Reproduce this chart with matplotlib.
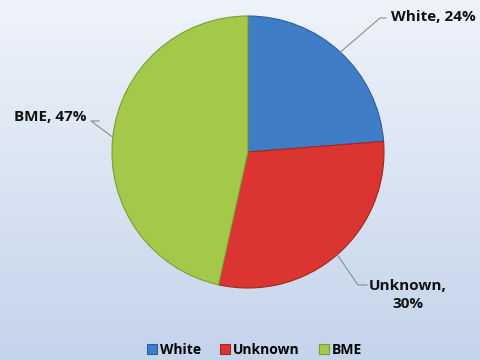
import numpy as np
import matplotlib.pyplot as plt
from matplotlib.colors import LinearSegmentedColormap

categories = ['White', 'Unknown', 'BME']
shares = [24, 30, 47]
colors = ['#3F7DC7', '#DA3531', '#A4C84A']
edges = ['#2F5F9A', '#A52622', '#7E9C34']

plt.rcParams['font.family'] = ['Open Sans', 'DejaVu Sans']

fig = plt.figure(figsize=(4.8, 3.6), dpi=100)

# gradient background
bg = fig.add_axes([0, 0, 1, 1])
grad = np.linspace(0, 1, 256).reshape(-1, 1)
cmap = LinearSegmentedColormap.from_list('bg', ['#EFF3FA', '#C4D4EB'])
bg.imshow(grad, aspect='auto', cmap=cmap, extent=[0, 1, 0, 1])
bg.axis('off')

# axes in pixel coordinates
ax = fig.add_axes([0, 0, 1, 1])
ax.patch.set_alpha(0)

cx, cy, r = 248, 208, 136
wedges, _ = ax.pie(shares, colors=colors, startangle=90, counterclock=False,
                   center=(cx, cy), radius=r, frame=True,
                   wedgeprops=dict(linewidth=0.8))
for w, e in zip(wedges, edges):
    w.set_edgecolor(e)
ax.set_xlim(0, 480)
ax.set_ylim(0, 360)
ax.axis('off')

# data labels with leader lines
total = sum(shares)
pct = [round(v / total * 100) for v in shares]
label_text = [f'White, {pct[0]}%', f'Unknown,\n{pct[1]}%', f'BME, {pct[2]}%']
elbow = [(386, 342), (367, 75), (99, 239)]
text_pos = [(391, 343, 'left'), (408, 65, 'center'), (87, 243, 'right')]
line_end = [(380, 342), (358, 75), (91, 239)]

for w, lab, el, tp, le in zip(wedges, label_text, elbow, text_pos, line_end):
    ang = np.deg2rad((w.theta1 + w.theta2) / 2)
    px, py = cx + r * np.cos(ang), cy + r * np.sin(ang)
    ax.plot([px, le[0], el[0]], [py, le[1], le[1]], color='#8C8C8C', lw=0.8)
    ax.text(tp[0], tp[1], lab, ha=tp[2], va='center', fontsize=11,
            fontweight='bold', color='#111111', linespacing=1.4)

leg = ax.legend(wedges, categories, loc='lower center', bbox_to_anchor=(0.53, -0.025),
                ncol=3, frameon=False, handlelength=0.7, handleheight=0.7,
                handletextpad=0.2, columnspacing=1.4,
                prop=dict(weight='bold', size=10))

fig.savefig('out.png', dpi=100)
